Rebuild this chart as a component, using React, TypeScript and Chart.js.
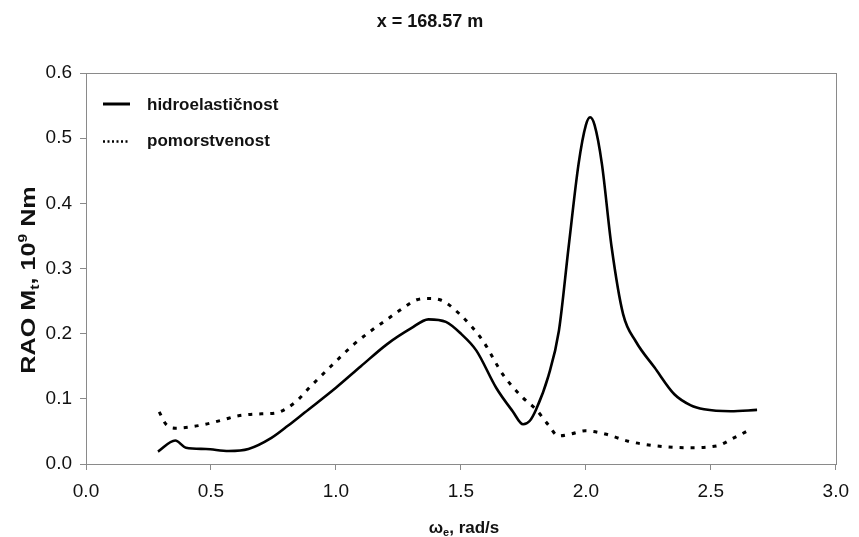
import React, { useEffect, useRef } from "react";
import { Chart, registerables } from "chart.js";

Chart.register(...registerables);

// ---- data ----
const hydroX = [0.288, 0.357, 0.40, 0.48, 0.571, 0.65, 0.742, 0.809, 0.875, 1.0, 1.1, 1.205, 1.30, 1.37, 1.44, 1.50, 1.562, 1.641, 1.707, 1.749, 1.775, 1.80, 1.85, 1.892, 1.931, 1.971, 2.00, 2.017, 2.035, 2.064, 2.103, 2.149, 2.20, 2.275, 2.354, 2.42, 2.473, 2.579, 2.685];
const hydroY = [0.019, 0.036, 0.025, 0.023, 0.020, 0.023, 0.040, 0.059, 0.079, 0.117, 0.150, 0.184, 0.208, 0.222, 0.218, 0.200, 0.174, 0.117, 0.081, 0.061, 0.066, 0.083, 0.135, 0.204, 0.333, 0.461, 0.520, 0.532, 0.520, 0.461, 0.333, 0.230, 0.188, 0.148, 0.107, 0.090, 0.084, 0.081, 0.083];

const pomX = [0.293, 0.32, 0.359, 0.42, 0.478, 0.55, 0.61, 0.703, 0.756, 0.835, 0.901, 0.98, 1.07, 1.139, 1.205, 1.271, 1.324, 1.37, 1.416, 1.495, 1.588, 1.667, 1.747, 1.80, 1.85, 1.89, 1.94, 1.998, 2.077, 2.169, 2.275, 2.407, 2.526, 2.592, 2.658];
const pomY = [0.080, 0.061, 0.055, 0.057, 0.061, 0.068, 0.074, 0.077, 0.078, 0.094, 0.120, 0.150, 0.183, 0.204, 0.222, 0.240, 0.252, 0.254, 0.252, 0.230, 0.189, 0.138, 0.102, 0.084, 0.060, 0.043, 0.046, 0.051, 0.046, 0.035, 0.028, 0.025, 0.028, 0.040, 0.053];

const seriesNames = ["hidroelastičnost", "pomorstvenost"];
const chartTitle = "x = 168.57 m";
const xTicks = { min: 0, max: 3, step: 0.5 };
const yTicks = { min: 0, max: 0.6, step: 0.1 };

const FONT = "'Liberation Sans', Arial, sans-serif";
const GREY = "#8a8a8a";

type Seg = { t: string; s: number; dy: number };

function drawRich(ctx: CanvasRenderingContext2D, segs: Seg[], size: number, cx: number, cy: number) {
  let total = 0;
  const widths: number[] = [];
  for (const sg of segs) {
    ctx.font = `bold ${Math.round(size * sg.s)}px ${FONT}`;
    const w = ctx.measureText(sg.t).width;
    widths.push(w);
    total += w;
  }
  let x = cx - total / 2;
  ctx.textAlign = "left";
  ctx.textBaseline = "alphabetic";
  segs.forEach((sg, i) => {
    ctx.font = `bold ${Math.round(size * sg.s)}px ${FONT}`;
    ctx.fillText(sg.t, x, cy + sg.dy * size);
    x += widths[i];
  });
}

const decorPlugin = {
  id: "decor",
  afterDraw(chart: any) {
    const ctx: CanvasRenderingContext2D = chart.ctx;
    const a = chart.chartArea;
    ctx.save();
    // plot border
    ctx.strokeStyle = GREY;
    ctx.lineWidth = 1;
    ctx.strokeRect(Math.round(a.left) + 0.5, Math.round(a.top) + 0.5, Math.round(a.right - a.left), Math.round(a.bottom - a.top));

    ctx.fillStyle = "#111";
    // title
    ctx.font = `bold 18px ${FONT}`;
    ctx.textAlign = "center";
    ctx.textBaseline = "alphabetic";
    ctx.fillText(chartTitle, 430, 27);

    // x title
    drawRich(ctx, [
      { t: "ω", s: 1, dy: 0 },
      { t: "e", s: 0.65, dy: 0.2 },
      { t: ", rad/s", s: 1, dy: 0 },
    ], 17, 464, 533);

    // y title
    ctx.save();
    ctx.translate(35, 280);
    ctx.rotate(-Math.PI / 2);
    ctx.scale(1.2, 1);
    drawRich(ctx, [
      { t: "RAO M", s: 1, dy: 0 },
      { t: "t", s: 0.6, dy: 0.2 },
      { t: ", 10", s: 1, dy: 0 },
      { t: "9", s: 0.6, dy: -0.4 },
      { t: " Nm", s: 1, dy: 0 },
    ], 21, 0, 0);
    ctx.restore();

    // legend
    ctx.strokeStyle = "#000";
    ctx.lineWidth = 3;
    ctx.beginPath();
    ctx.moveTo(103, 104);
    ctx.lineTo(130, 104);
    ctx.stroke();
    ctx.lineWidth = 2.5;
    ctx.setLineDash([2, 2.5]);
    ctx.beginPath();
    ctx.moveTo(103, 141.5);
    ctx.lineTo(130, 141.5);
    ctx.stroke();
    ctx.setLineDash([]);
    ctx.fillStyle = "#111";
    ctx.font = `bold 17px ${FONT}`;
    ctx.textAlign = "left";
    ctx.fillText(seriesNames[0], 147, 110);
    ctx.fillText(seriesNames[1], 147, 146);
    ctx.restore();
  },
};

export default function App() {
  const ref = useRef<HTMLCanvasElement | null>(null);
  useEffect(() => {
    document.body.style.margin = "0";
    const canvas = ref.current!;
    const chart = new Chart(canvas, {
      type: "scatter",
      data: {
        datasets: [
          {
            label: seriesNames[0],
            data: hydroX.map((x, i) => ({ x, y: hydroY[i] })),
            showLine: true,
            borderColor: "#000",
            borderWidth: 2.6,
            pointRadius: 0,
            cubicInterpolationMode: "monotone",
          },
          {
            label: seriesNames[1],
            data: pomX.map((x, i) => ({ x, y: pomY[i] })),
            showLine: true,
            borderColor: "#000",
            borderWidth: 3,
            borderDash: [4, 7],
            pointRadius: 0,
            cubicInterpolationMode: "monotone",
          },
        ],
      },
      options: {
        responsive: false,
        animation: false,
        devicePixelRatio: 1,
        layout: { padding: { top: 73, right: 16, left: 0, bottom: 0 } },
        plugins: { legend: { display: false }, title: { display: false }, tooltip: { enabled: false } },
        scales: {
          x: {
            type: "linear",
            min: xTicks.min,
            max: xTicks.max,
            afterFit: (s: any) => { s.height = 73; },
            ticks: {
              stepSize: xTicks.step,
              padding: 10,
              color: "#111",
              font: { family: FONT, size: 19 },
              callback: (v: any) => Number(v).toFixed(1),
            },
            grid: { drawOnChartArea: false, drawTicks: true, tickLength: 6, color: GREY },
            border: { display: true, color: GREY, width: 1 },
          },
          y: {
            type: "linear",
            min: yTicks.min,
            max: yTicks.max,
            afterFit: (s: any) => { s.width = 86; },
            ticks: {
              stepSize: yTicks.step,
              padding: 8,
              color: "#111",
              font: { family: FONT, size: 19 },
              callback: (v: any) => Number(v).toFixed(1),
            },
            grid: { drawOnChartArea: false, drawTicks: true, tickLength: 6, color: GREY },
            border: { display: true, color: GREY, width: 1 },
          },
        },
      },
      plugins: [decorPlugin],
    } as any);
    return () => chart.destroy();
  }, []);
  return (
    <div style={{ position: "absolute", left: 0, top: 0, width: 859, height: 537 }}>
      <canvas ref={ref} width={859} height={537} style={{ display: "block" }} />
    </div>
  );
}
